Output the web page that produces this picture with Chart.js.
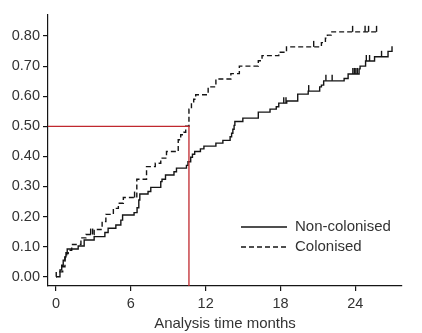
<!DOCTYPE html>
<html>
<head>
<meta charset="utf-8">
<title>Cumulative incidence by colonisation</title>
<script src="https://cdn.jsdelivr.net/npm/chart.js@4.4.1/dist/chart.umd.min.js"></script>
<style>
  html, body { margin: 0; padding: 0; background: #fff; }
  #wrap { width: 422px; height: 333px; position: relative; }
</style>
</head>
<body>
<div id="wrap"><canvas id="km"></canvas></div>
<script>
// Kaplan-Meier style step curves, time in months

// Non-colonised: event times and cumulative value after each step
var nonColTime = [0, 0.32, 0.46, 0.58, 0.72, 0.80, 0.90, 1.78, 2.26, 3.06, 3.92, 4.18, 4.80, 5.20, 5.34, 6.26, 6.50, 6.64, 6.72, 7.38,
  7.60, 8.40, 8.50, 8.78, 9.46, 9.66, 10.46, 10.58, 10.80, 10.94, 11.12, 11.58, 11.86, 12.82, 13.38, 13.96, 14.08, 14.18, 14.28, 14.34,
  14.98, 16.22, 17.16, 17.66, 17.86, 18.50, 19.38, 20.22, 21.14, 21.28, 21.46, 23.10, 23.42, 24.30, 24.38, 24.82, 25.54, 26.62, 26.94];
var nonColValue = [0, 0.022, 0.038, 0.055, 0.066, 0.080, 0.092, 0.102, 0.122, 0.133, 0.147, 0.161, 0.172, 0.188, 0.205, 0.213, 0.229, 0.255, 0.275, 0.283,
  0.297, 0.316, 0.324, 0.338, 0.349, 0.361, 0.370, 0.382, 0.397, 0.407, 0.416, 0.425, 0.434, 0.444, 0.453, 0.465, 0.477, 0.490, 0.503, 0.516,
  0.527, 0.547, 0.557, 0.565, 0.577, 0.584, 0.607, 0.617, 0.631, 0.637, 0.651, 0.659, 0.674, 0.691, 0.700, 0.717, 0.731, 0.749, 0.766];
var nonColCensor = [18.26, 18.44, 20.26, 21.64, 22.14, 23.80, 23.92, 24.04, 24.16, 24.88, 25.14, 26.10];

// Colonised
var colTime = [0, 0.02, 0.54, 0.72, 0.86, 0.98, 1.26, 2.00, 2.40, 3.06, 3.70, 4.00, 4.60, 5.00, 5.40, 6.48, 7.26, 7.96, 8.40, 8.86,
  9.80, 10.00, 10.26, 10.40, 10.66, 10.86, 11.04, 11.20, 12.20, 12.82, 14.02, 14.70, 16.22, 16.52, 17.86, 18.48, 21.28, 21.60, 21.76, 22.06, 25.70];
var colValue = [0, 0.016, 0.033, 0.063, 0.077, 0.088, 0.107, 0.129, 0.140, 0.157, 0.183, 0.207, 0.227, 0.244, 0.263, 0.324, 0.366, 0.377, 0.394, 0.416,
  0.455, 0.472, 0.480, 0.500, 0.557, 0.577, 0.590, 0.605, 0.631, 0.657, 0.675, 0.700, 0.718, 0.735, 0.746, 0.764, 0.778, 0.793, 0.803, 0.814, 0.814];
var colCensor = [2.78, 2.94, 6.30, 20.66, 23.78, 24.78, 25.06, 25.70];

var seriesNames = ['Non-colonised', 'Colonised'];
var xTicks = [0, 6, 12, 18, 24];
var yTicks = [0, 0.1, 0.2, 0.3, 0.4, 0.5, 0.6, 0.7, 0.8];
var xTitle = 'Analysis time months';

// median time for the colonised group (reference line at 0.50)
var medianLevel = 0.5;
var medianTime = 10.66;

var INK = '#151515';
var TEXT = '#333333';
var RED = '#c0282e';
var FONT = "'Liberation Sans', Arial, sans-serif";

function toPoints(ts, vs) {
  return ts.map(function (t, i) { return { x: t, y: vs[i] }; });
}

// value of a step curve at time t
function stepAt(ts, vs, t) {
  var v = vs[0];
  for (var i = 0; i < ts.length; i++) { if (ts[i] <= t) v = vs[i]; }
  return v;
}

var censorPlugin = {
  id: 'censorTicks',
  afterDatasetsDraw: function (chart) {
    var ctx = chart.ctx, xs = chart.scales.x, ys = chart.scales.y;
    var groups = [[nonColTime, nonColValue, nonColCensor], [colTime, colValue, colCensor]];
    ctx.save();
    ctx.strokeStyle = INK;
    ctx.lineWidth = 1.4;
    groups.forEach(function (g) {
      g[2].forEach(function (t) {
        var px = xs.getPixelForValue(t), py = ys.getPixelForValue(stepAt(g[0], g[1], t));
        ctx.beginPath();
        ctx.moveTo(px, py);
        ctx.lineTo(px, py - 6);
        ctx.stroke();
      });
    });
    ctx.restore();
  }
};

var medianPlugin = {
  id: 'medianLine',
  afterDatasetsDraw: function (chart) {
    var ctx = chart.ctx, xs = chart.scales.x, ys = chart.scales.y, a = chart.chartArea;
    var px = xs.getPixelForValue(medianTime), py = ys.getPixelForValue(medianLevel);
    ctx.save();
    ctx.strokeStyle = RED;
    ctx.lineWidth = 1.3;
    ctx.beginPath();
    ctx.moveTo(a.left, py);
    ctx.lineTo(px, py);
    ctx.lineTo(px, a.bottom);
    ctx.stroke();
    ctx.restore();
  }
};

var legendPlugin = {
  id: 'kmLegend',
  afterDraw: function (chart) {
    var ctx = chart.ctx, a = chart.chartArea;
    var x0 = a.left + 193, y0 = a.top + 212;
    ctx.save();
    ctx.strokeStyle = INK;
    ctx.lineWidth = 1.3;
    ctx.font = '15px ' + FONT;
    ctx.fillStyle = TEXT;
    ctx.textBaseline = 'middle';
    seriesNames.forEach(function (name, i) {
      var y = y0 + i * 20;
      ctx.setLineDash(i === 0 ? [] : [5, 3]);
      ctx.beginPath();
      ctx.moveTo(x0, y);
      ctx.lineTo(x0 + 46, y);
      ctx.stroke();
      ctx.fillText(name, x0 + 54, y);
    });
    ctx.restore();
  }
};

new Chart(document.getElementById('km'), {
  type: 'line',
  data: {
    datasets: [
      {
        label: seriesNames[0],
        data: toPoints(nonColTime, nonColValue),
        borderColor: INK, borderWidth: 1.4, stepped: 'before',
        pointRadius: 0, fill: false
      },
      {
        label: seriesNames[1],
        data: toPoints(colTime, colValue),
        borderColor: INK, borderWidth: 1.4, borderDash: [5, 3], stepped: 'before',
        pointRadius: 0, fill: false
      }
    ]
  },
  options: {
    responsive: true, maintainAspectRatio: false, animation: false,
    layout: { padding: { top: 15, right: 20, left: 0, bottom: 0 } },
    plugins: { legend: { display: false }, tooltip: { enabled: false } },
    scales: {
      x: {
        type: 'linear', min: -0.64, max: 27.74,
        afterBuildTicks: function (s) { s.ticks = xTicks.map(function (v) { return { value: v }; }); },
        afterFit: function (s) { s.height = 47; },
        grid: { display: true, drawOnChartArea: false, drawTicks: true, tickLength: 5, color: INK, lineWidth: 1.2 },
        border: { display: true, color: INK, width: 1.2 },
        ticks: { color: TEXT, padding: 4, font: { family: FONT, size: 14.5 }, maxRotation: 0 },
        title: { display: true, text: xTitle, color: TEXT, font: { family: FONT, size: 15 }, padding: { top: 0, bottom: 0 } }
      },
      y: {
        type: 'linear', min: -0.031, max: 0.87,
        afterBuildTicks: function (s) { s.ticks = yTicks.map(function (v) { return { value: v }; }); },
        afterFit: function (s) { s.width = 48; },
        grid: { display: true, drawOnChartArea: false, drawTicks: true, tickLength: 5, color: INK, lineWidth: 1.2 },
        border: { display: true, color: INK, width: 1.2 },
        ticks: { color: TEXT, padding: 3, font: { family: FONT, size: 14.5 },
          callback: function (v) { return Number(v).toFixed(2); } }
      }
    }
  },
  plugins: [censorPlugin, medianPlugin, legendPlugin]
});
</script>
</body>
</html>
